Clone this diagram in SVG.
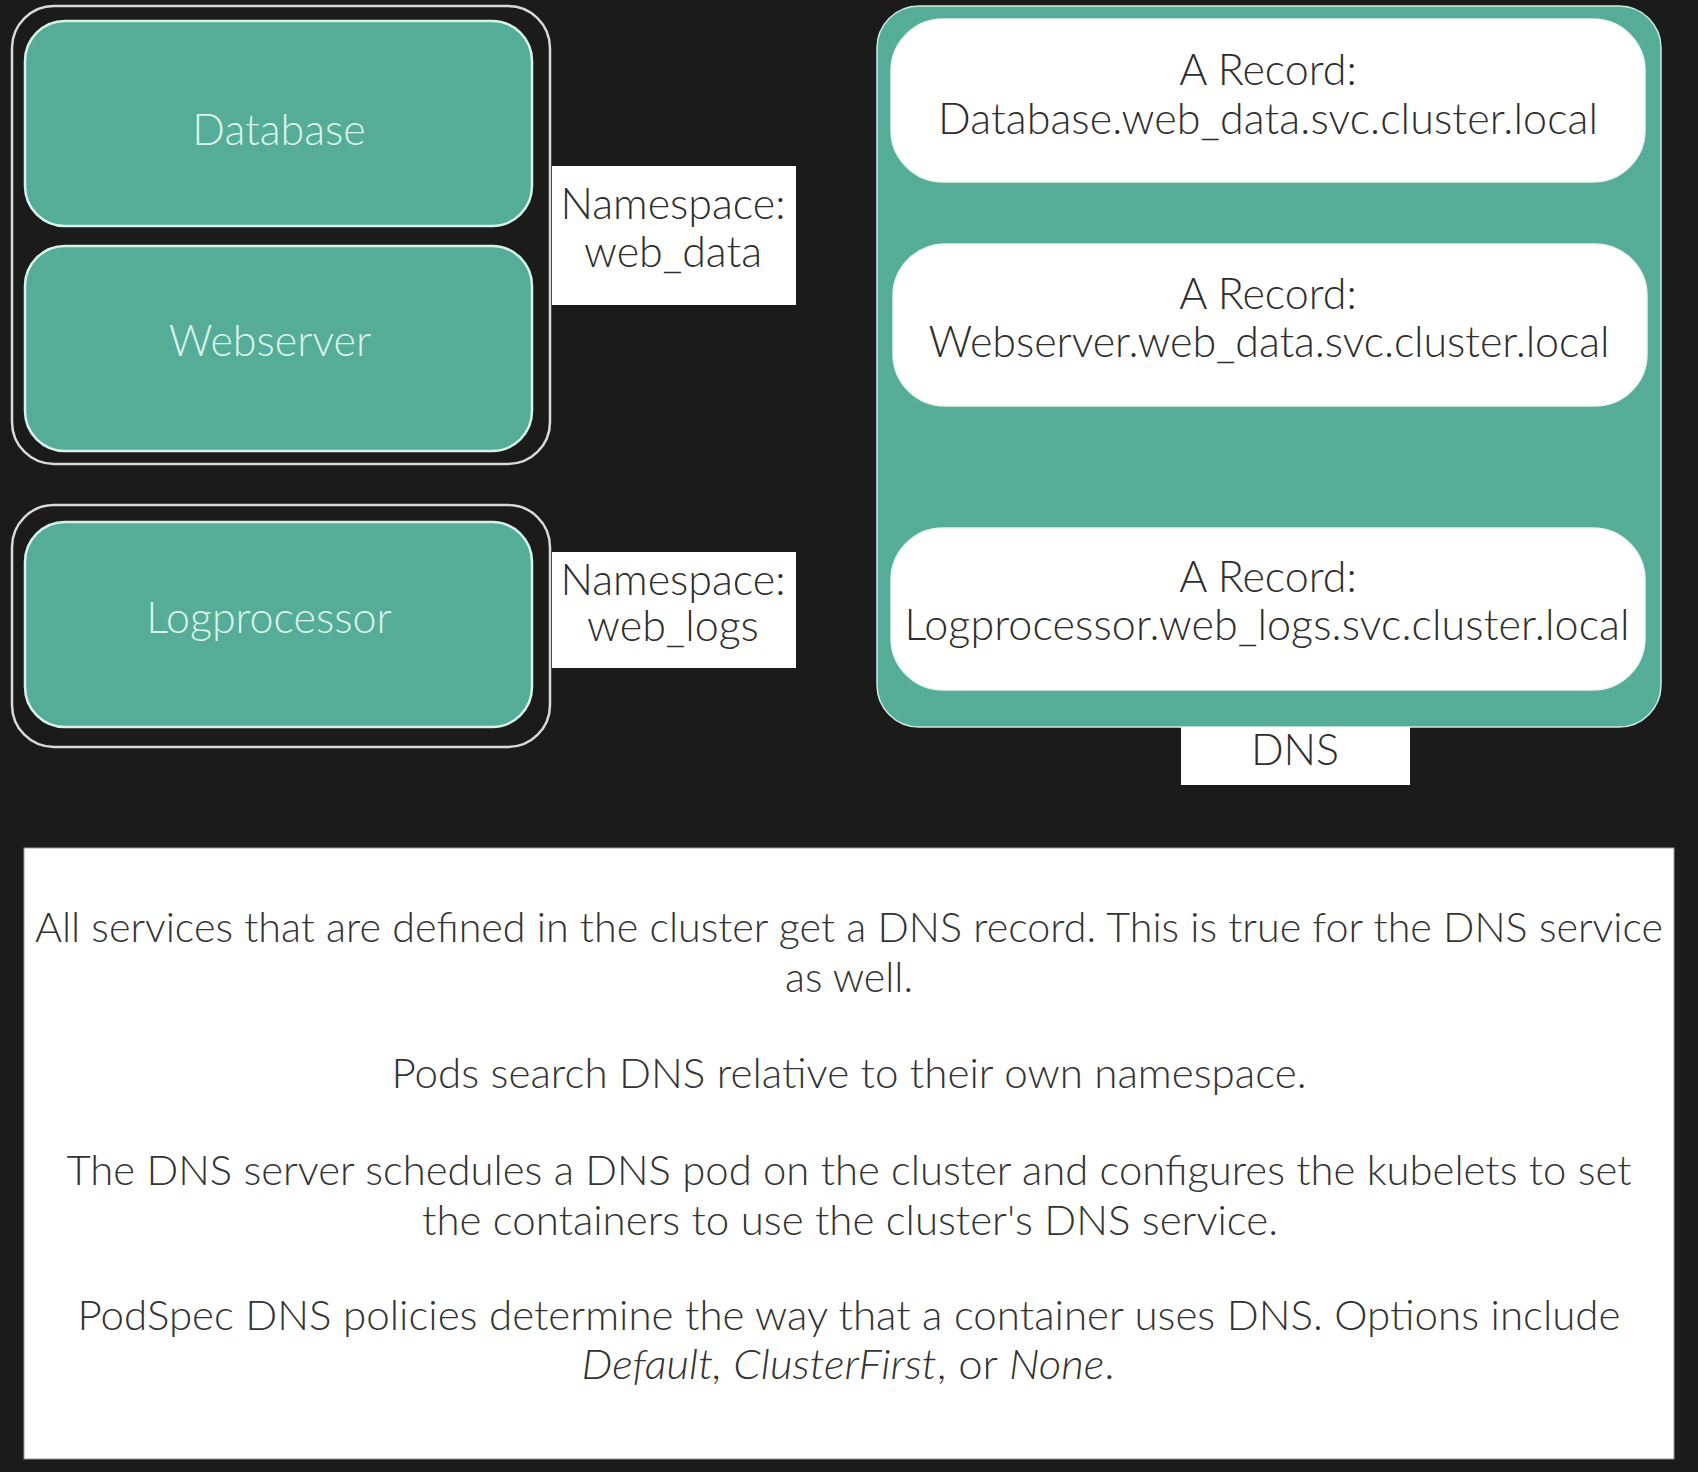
<svg xmlns="http://www.w3.org/2000/svg" width="1698" height="1472" viewBox="0 0 1698 1472">
<style>
text{font-family:Lato,"Noto Sans","Liberation Sans",sans-serif;font-weight:300;text-anchor:middle}
.ns{fill:none;stroke:#d9d9d9;stroke-width:2.5}
.pod{fill:#55ad97;stroke:#d6f2ea;stroke-width:2.5}
.podt{fill:#dcf3ec;font-size:43px}
.lbl{fill:#ffffff}
.lblt{fill:#2e2e2e;font-size:43px}
.rec{fill:#ffffff;stroke:#e8f4f0;stroke-width:1.5}
.rect{fill:#2e2e2e;font-size:43px}
.note{fill:#333333;font-size:42px}
.it{font-style:italic}
</style>
<rect x="0" y="0" width="1698" height="1472" fill="#1b1b1b"/>

<g id="ns-web-data">
<rect class="ns" x="12" y="6" width="538" height="458" rx="42"/>
</g>
<g id="database">
<rect class="pod" x="25" y="21" width="507" height="205" rx="40"/>
<text class="podt" x="279" y="145">Database</text>
</g>
<g id="webserver">
<rect class="pod" x="25" y="246" width="507" height="205" rx="40"/>
<text class="podt" x="270" y="356">Webserver</text>
</g>
<g id="label-web-data">
<rect class="lbl" x="552" y="166" width="244" height="139"/>
<text class="lblt" x="673" y="219">Namespace:</text>
<text class="lblt" x="673" y="267">web_data</text>
</g>

<g id="ns-web-logs">
<rect class="ns" x="12" y="505" width="538" height="242" rx="42"/>
</g>
<g id="logprocessor">
<rect class="pod" x="25" y="522" width="507" height="205" rx="40"/>
<text class="podt" x="269" y="633">Logprocessor</text>
</g>
<g id="label-web-logs">
<rect class="lbl" x="552" y="552" width="244" height="116"/>
<text class="lblt" x="673" y="595">Namespace:</text>
<text class="lblt" x="673" y="641">web_logs</text>
</g>

<g id="dns">
<rect x="877" y="6" width="784" height="721" rx="42" fill="#55ad97" stroke="#cdebe2" stroke-width="1.5"/>
</g>
<g id="record-database">
<rect class="rec" x="891" y="19" width="754" height="163" rx="52"/>
<text class="rect" x="1268" y="85">A Record:</text>
<text class="rect" x="1268" y="134" textLength="660">Database.web_data.svc.cluster.local</text>
</g>
<g id="record-webserver">
<rect class="rec" x="893" y="244" width="754" height="162" rx="52"/>
<text class="rect" x="1268" y="309">A Record:</text>
<text class="rect" x="1269" y="357" textLength="681">Webserver.web_data.svc.cluster.local</text>
</g>
<g id="record-logprocessor">
<rect class="rec" x="891" y="528" width="754" height="162" rx="52"/>
<text class="rect" x="1268" y="592">A Record:</text>
<text class="rect" x="1267" y="640" textLength="725">Logprocessor.web_logs.svc.cluster.local</text>
</g>
<g id="label-dns">
<rect class="lbl" x="1181" y="727" width="229" height="58"/>
<text class="lblt" x="1295" y="765">DNS</text>
</g>

<g id="connectors"></g>

<g id="notes">
<rect x="24" y="848" width="1650" height="611" fill="#ffffff" stroke="#9a9a9a" stroke-width="1"/>
<text class="note" x="849" y="942" textLength="1628" lengthAdjust="spacingAndGlyphs">All services that are defined in the cluster get a DNS record. This is true for the DNS service</text>
<text class="note" x="849" y="992" textLength="128" lengthAdjust="spacingAndGlyphs">as well.</text>
<text class="note" x="849" y="1088" textLength="915" lengthAdjust="spacingAndGlyphs">Pods search DNS relative to their own namespace.</text>
<text class="note" x="849" y="1185" textLength="1565" lengthAdjust="spacingAndGlyphs">The DNS server schedules a DNS pod on the cluster and configures the kubelets to set</text>
<text class="note" x="850" y="1235" textLength="856" lengthAdjust="spacingAndGlyphs">the containers to use the cluster's DNS service.</text>
<text class="note" x="849" y="1330" textLength="1543" lengthAdjust="spacingAndGlyphs">PodSpec DNS policies determine the way that a container uses DNS. Options include</text>
<text class="note" x="848" y="1379" textLength="533" lengthAdjust="spacingAndGlyphs"><tspan class="it">Default, ClusterFirst</tspan>, or <tspan class="it">None</tspan>.</text>
</g>
</svg>
